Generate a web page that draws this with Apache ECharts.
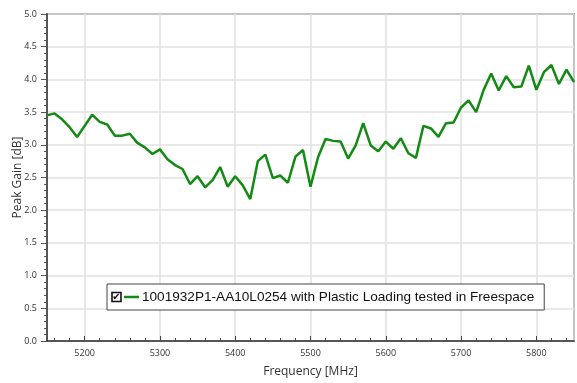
<!DOCTYPE html>
<html>
<head>
<meta charset="utf-8">
<script src="https://cdn.jsdelivr.net/npm/echarts@6/dist/echarts.min.js"></script>
<style>
  html, body { margin: 0; padding: 0; background: #fff; }
  #chart { width: 577px; height: 383px; }
</style>
</head>
<body>
<div id="chart"></div>
<script>
// Measured peak gain over frequency (10 MHz steps)
const frequenciesMHz = [
  5150, 5160, 5170, 5180, 5190, 5200, 5210, 5220, 5230, 5240,
  5250, 5260, 5270, 5280, 5290, 5300, 5310, 5320, 5330, 5340,
  5350, 5360, 5370, 5380, 5390, 5400, 5410, 5420, 5430, 5440,
  5450, 5460, 5470, 5480, 5490, 5500, 5510, 5520, 5530, 5540,
  5550, 5560, 5570, 5580, 5590, 5600, 5610, 5620, 5630, 5640,
  5650, 5660, 5670, 5680, 5690, 5700, 5710, 5720, 5730, 5740,
  5750, 5760, 5770, 5780, 5790, 5800, 5810, 5820, 5830, 5840,
  5850
];
const peakGainDb = [
  3.45, 3.48, 3.39, 3.27, 3.12, 3.29, 3.46, 3.35, 3.31, 3.14,
  3.14, 3.17, 3.03, 2.96, 2.86, 2.93, 2.78, 2.69, 2.63, 2.40,
  2.52, 2.35, 2.46, 2.66, 2.36, 2.52, 2.38, 2.17, 2.75, 2.85,
  2.49, 2.53, 2.42, 2.82, 2.92, 2.36, 2.81, 3.09, 3.06, 3.05,
  2.79, 2.99, 3.33, 2.99, 2.90, 3.05, 2.94, 3.10, 2.87, 2.80,
  3.29, 3.25, 3.12, 3.33, 3.34, 3.57, 3.68, 3.50, 3.84, 4.09,
  3.83, 4.05, 3.88, 3.89, 4.21, 3.84, 4.11, 4.22, 3.93, 4.15,
  3.96
];
const seriesName = '1001932P1-AA10L0254 with Plastic Loading tested in Freespace';
const xAxisTitle = 'Frequency [MHz]';
const yAxisTitle = 'Peak Gain [dB]';

// Minor tick slots on the frequency axis (one per 20 MHz, centred on each tick)
const minorTickSlots = [];
for (let f = 5160; f <= 5840; f += 20) minorTickSlots.push(String(f));

const chart = echarts.init(document.getElementById('chart'), null, { renderer: 'canvas' });

const uiFont = '"Open Sans", "Noto Sans", sans-serif';

chart.setOption({
  animation: false,
  backgroundColor: '#ffffff',
  grid: {
    left: 47, right: 3, top: 14, bottom: 40,
    show: true, borderColor: '#444', borderWidth: 1.5, backgroundColor: 'transparent'
  },
  legend: {
    left: 107, top: 284,
    padding: [6, 10, 6, 0],
    backgroundColor: '#fff',
    borderColor: '#444', borderWidth: 1,
    borderRadius: 0,
    itemWidth: 0, itemHeight: 0,
    icon: 'rect',
    selectedMode: false,
    data: [seriesName],
    formatter: function (name) {
      return '{cb|\u2714}{sp| }{ln| }{sp| }{txt|' + name + '}';
    },
    textStyle: {
      rich: {
        cb: {
          width: 9, height: 9, lineHeight: 10,
          borderColor: '#111', borderWidth: 1.6,
          fontSize: 10, fontWeight: 'bold', color: '#111', align: 'center',
          fontFamily: 'DejaVu Sans', verticalAlign: 'middle'
        },
        sp: { width: 3 },
        ln: {
          width: 15, height: 2.5,
          backgroundColor: '#138a13', verticalAlign: 'middle'
        },
        txt: {
          fontSize: 13.6, color: '#111',
          fontFamily: '"Liberation Sans", Arial, sans-serif',
          verticalAlign: 'middle', lineHeight: 16
        }
      }
    }
  },
  xAxis: [
    {
      type: 'value',
      min: 5150, max: 5850,
      splitNumber: 7,
      name: xAxisTitle,
      nameLocation: 'middle',
      nameGap: 25,
      nameMoveOverlap: false,
      nameTextStyle: { fontSize: 12, color: '#333', fontFamily: uiFont },
      axisLine: { show: true, onZero: false, lineStyle: { color: '#333', width: 1.5 } },
      axisTick: { show: true, inside: true, length: 5, lineStyle: { color: '#444' } },
      axisLabel: {
        fontSize: 9, color: '#333', fontFamily: uiFont, margin: 8,
        showMinLabel: false, showMaxLabel: false,
        formatter: function (v) { return String(v); }
      },
      splitLine: { show: true, lineStyle: { color: '#e2e2e2', width: 1.5 } }
    },
    {
      type: 'category',
      position: 'bottom',
      data: minorTickSlots,
      boundaryGap: true,
      axisLine: { show: false },
      axisTick: { show: true, inside: true, alignWithLabel: true, interval: 0, length: 3, lineStyle: { color: '#444' } },
      axisLabel: { show: false },
      splitLine: { show: false }
    }
  ],
  yAxis: {
    type: 'value',
    min: 0, max: 5, interval: 0.5,
    name: yAxisTitle,
    nameLocation: 'middle',
    nameGap: 23,
    nameMoveOverlap: false,
    nameTextStyle: { fontSize: 12, color: '#333', fontFamily: uiFont },
    axisLine: { show: true, lineStyle: { color: '#555', width: 2 } },
    axisTick: { show: true, length: 6, lineStyle: { color: '#555' } },
    minorTick: { show: true, splitNumber: 5, length: 3, lineStyle: { color: '#555' } },
    axisLabel: {
      fontSize: 9, color: '#333', fontFamily: uiFont, margin: 10,
      formatter: function (v) { return v.toFixed(1); }
    },
    splitLine: { show: true, lineStyle: { color: '#e2e2e2', width: 1.5 } }
  },
  series: [
    {
      name: seriesName,
      type: 'line',
      xAxisIndex: 0,
      showSymbol: false,
      symbol: 'none',
      data: frequenciesMHz.map((f, i) => [f, peakGainDb[i]]),
      lineStyle: { color: '#138a13', width: 2.5 },
      itemStyle: { color: '#138a13' }
    }
  ]
});
</script>
</body>
</html>
